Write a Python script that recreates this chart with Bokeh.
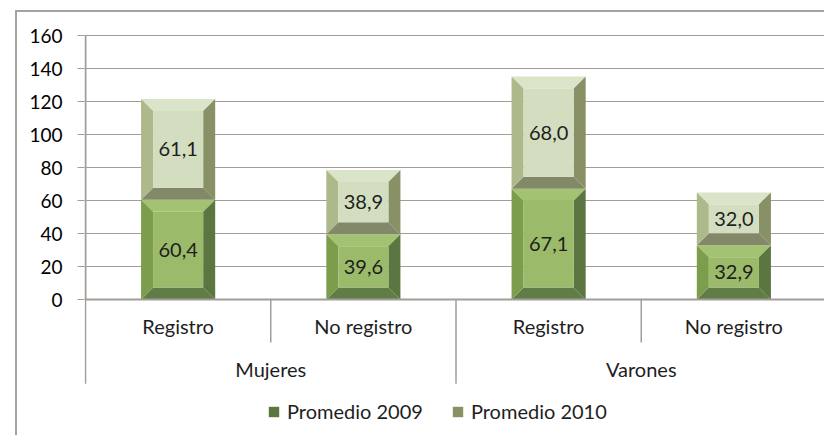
from bokeh.plotting import figure
from bokeh.models import ColumnDataSource, FixedTicker, Range1d, Legend, LegendItem
from bokeh.core.properties import value
from bokeh.embed import file_html
from bokeh.resources import INLINE

# ---- data ----
groups = ["Mujeres", "Varones"]
subcats = ["Registro", "No registro", "Registro", "No registro"]
prom_2009 = [60.4, 39.6, 67.1, 32.9]
prom_2010 = [61.1, 38.9, 68.0, 32.0]
series_names = ["Promedio 2009", "Promedio 2010"]
y_ticks = [0, 20, 40, 60, 80, 100, 120, 140, 160]

# ---- styling / layout ----
FONT = "Lato"
GRID = "#A49C98"
AXIS = "#A49C98"
TXT = "#1e1e1e"
W, H = 809, 425
FL, FT = 67, 11
PX_UNIT = 1.65          # pixels per y unit
CAT_PX = 185.25         # pixels per category
BAR_W = 0.40
BEVEL_PX = 12
Y_TOP = 160 + 12 / PX_UNIT
Y_BOT = -(H - FT - 12 - 160 * PX_UNIT) / PX_UNIT
X_START = -1 / CAT_PX

colors = {
    "Promedio 2009": dict(top="#A3C373", bottom="#617D47", left="#7C9D4C",
                          right="#5C7642", center="#9BBB6A"),
    "Promedio 2010": dict(top="#D9E4C8", bottom="#838968", left="#ADB98A",
                          right="#889066", center="#D3DEC0"),
}

p = figure(width=W, height=H, x_range=Range1d(X_START, 4), y_range=Range1d(Y_BOT, Y_TOP),
           output_backend="svg", toolbar_location=None, x_axis_location=None,
           min_border_left=FL, min_border_top=FT, min_border_right=0, min_border_bottom=0)
p.margin = (10, 0, 0, 15)
p.styles = {"border-left": "2px solid #A8A29E", "border-top": "2px solid #A8A29E"}
p.outline_line_color = None
p.background_fill_color = "white"
p.xgrid.visible = False
p.ygrid.ticker = FixedTicker(ticks=y_ticks)
p.ygrid.grid_line_color = GRID
p.ygrid.grid_line_width = 1
p.yaxis.ticker = FixedTicker(ticks=y_ticks)
p.yaxis.axis_line_color = None
p.yaxis.major_tick_out = 7
p.yaxis.major_tick_in = 0
p.yaxis.minor_tick_line_color = None
p.yaxis.major_tick_line_color = GRID
p.yaxis.major_label_standoff = 15
p.yaxis.major_label_text_font = FONT
p.yaxis.major_label_text_font_size = "19px"
p.yaxis.major_label_text_color = "#000000"

centers = [i + 0.5 for i in range(len(subcats))]
bx = BEVEL_PX / CAT_PX
by = BEVEL_PX / PX_UNIT

legend_items = []
bottoms = [0.0] * len(subcats)
for name, vals in zip(series_names, [prom_2009, prom_2010]):
    faces = {k: ([], []) for k in ["top", "bottom", "left", "right", "center"]}
    for c, b, v in zip(centers, bottoms, vals):
        x0, x1 = c - BAR_W / 2, c + BAR_W / 2
        y0, y1 = b, b + v
        faces["top"][0].append([x0, x1, x1 - bx, x0 + bx]);  faces["top"][1].append([y1, y1, y1 - by, y1 - by])
        faces["bottom"][0].append([x0, x1, x1 - bx, x0 + bx]); faces["bottom"][1].append([y0, y0, y0 + by, y0 + by])
        faces["left"][0].append([x0, x0, x0 + bx, x0 + bx]); faces["left"][1].append([y0, y1, y1 - by, y0 + by])
        faces["right"][0].append([x1, x1, x1 - bx, x1 - bx]); faces["right"][1].append([y0, y1, y1 - by, y0 + by])
        faces["center"][0].append([x0 + bx, x1 - bx, x1 - bx, x0 + bx]); faces["center"][1].append([y0 + by, y0 + by, y1 - by, y1 - by])
    rends = {}
    for k, (xs, ys) in faces.items():
        rends[k] = p.patches(xs=xs, ys=ys, fill_color=colors[name][k], line_color=None)
    legend_items.append(LegendItem(label=name, renderers=[rends["right"]]))
    src = ColumnDataSource(dict(x=centers, y=[b + v / 2 for b, v in zip(bottoms, vals)],
                                t=[f"{v:.1f}".replace(".", ",") for v in vals]))
    p.text(x="x", y="y", text="t", source=src, text_align="center", text_baseline="middle",
           text_font=value(FONT), text_font_size="20px", text_color=TXT)
    bottoms = [b + v for b, v in zip(bottoms, vals)]

# axes lines
p.segment(x0=[0], y0=[0], x1=[4], y1=[0], line_color=AXIS, line_width=2)
p.segment(x0=[0], y0=[0], x1=[0], y1=[160], line_color=AXIS, line_width=2)

# category separators below axis
SUB_LEN = -26
GRP_LEN = -51
n_sub = len(subcats) // len(groups)
sub_div = [i for i in range(1, len(subcats)) if i % n_sub != 0]
grp_div = [i * n_sub for i in range(len(groups) + 1)]
p.segment(x0=sub_div, y0=[0] * len(sub_div), x1=sub_div, y1=[SUB_LEN] * len(sub_div),
          line_color=AXIS, line_width=1.5)
p.segment(x0=grp_div, y0=[0] * len(grp_div), x1=grp_div, y1=[GRP_LEN] * len(grp_div),
          line_color=AXIS, line_width=1.5)

p.text(x=centers, y=[-16] * len(centers), text=subcats, text_align="center",
       text_baseline="middle", text_font=value(FONT), text_font_size="20px", text_color=TXT)
gcenters = [n_sub * i + n_sub / 2 for i in range(len(groups))]
p.text(x=gcenters, y=[-42] * len(groups), text=groups, text_align="center",
       text_baseline="middle", text_font=value(FONT), text_font_size="20px", text_color=TXT)

legend = Legend(items=legend_items, orientation="horizontal", location=(183, 14),
                background_fill_alpha=0, border_line_color=None, padding=0, margin=0,
                spacing=28, label_standoff=7, glyph_width=13, glyph_height=13,
                label_text_font=FONT, label_text_font_size="20px", label_text_color=TXT)
p.add_layout(legend)

open("out.html", "w").write(file_html(p, INLINE))
